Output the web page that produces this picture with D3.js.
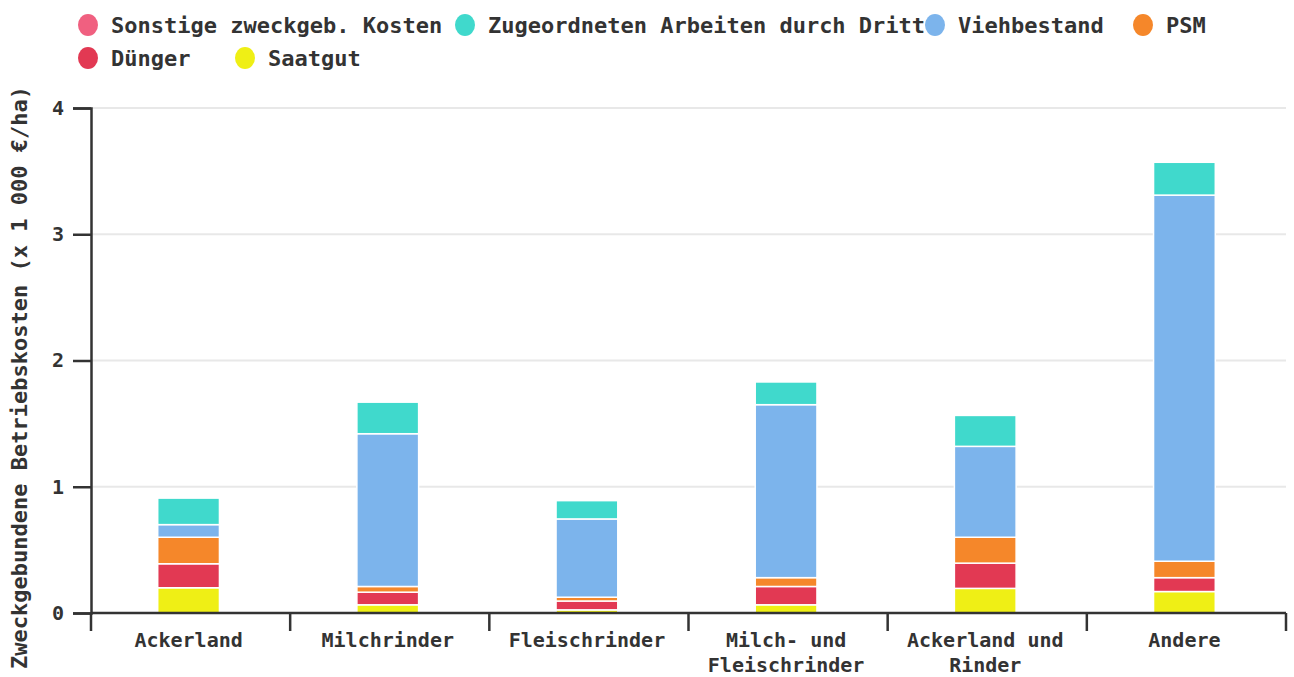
<!DOCTYPE html>
<html>
<head>
<meta charset="utf-8">
<script src="https://cdn.jsdelivr.net/npm/d3@7"></script>
<style>
  body { margin: 0; background: #fff; }
  svg text { font-family: "DejaVu Sans Mono", monospace; font-weight: bold; fill: #333; }
  .grid line { stroke: #e8e8e8; stroke-width: 2px; }
  .axis path, .axis line { stroke: #333; stroke-width: 2.5px; }
</style>
</head>
<body>
<div id="chart"></div>
<script>
const categories = ["Ackerland", "Milchrinder", "Fleischrinder", "Milch- und Fleischrinder", "Ackerland und Rinder", "Andere"];
const categoryLines = [["Ackerland"], ["Milchrinder"], ["Fleischrinder"], ["Milch- und", "Fleischrinder"], ["Ackerland und", "Rinder"], ["Andere"]];

// stacked bottom to top
const seriesNames = ["Saatgut", "Dünger", "PSM", "Viehbestand", "Zugeordneten Arbeiten durch Dritte", "Sonstige zweckgeb. Kosten"];
const saatgut     = [0.20, 0.065, 0.025, 0.065, 0.195, 0.17];
const duenger     = [0.19, 0.10, 0.07, 0.145, 0.20, 0.11];
const psm         = [0.21, 0.045, 0.03, 0.07, 0.205, 0.13];
const viehbestand = [0.10, 1.21, 0.62, 1.37, 0.72, 2.90];
const zugeordnet  = [0.21, 0.25, 0.145, 0.18, 0.245, 0.26];
const sonstige    = [0, 0, 0, 0, 0, 0];
const colors = ["#efef15", "#e23953", "#f5872a", "#7cb4ec", "#40d9cc", "#f06080"];
const yTicks = [0, 1, 2, 3, 4];

const width = 1294, height = 677;
const margin = {top: 108, right: 8, bottom: 64, left: 91};

const rows = categories.map((c, i) => ({
  cat: c,
  "Saatgut": saatgut[i],
  "Dünger": duenger[i],
  "PSM": psm[i],
  "Viehbestand": viehbestand[i],
  "Zugeordneten Arbeiten durch Dritte": zugeordnet[i],
  "Sonstige zweckgeb. Kosten": sonstige[i]
}));

const svg = d3.select("#chart").append("svg")
  .attr("width", width).attr("height", height);

const x = d3.scaleBand().domain(categories)
  .range([margin.left, width - margin.right]);
const y = d3.scaleLinear().domain([0, 4])
  .range([height - margin.bottom, margin.top]);
const color = d3.scaleOrdinal(seriesNames, colors);

// grid
svg.append("g").attr("class", "grid")
  .selectAll("line").data(yTicks.filter(t => t > 0)).join("line")
  .attr("x1", margin.left).attr("x2", width - margin.right)
  .attr("y1", d => y(d)).attr("y2", d => y(d));

// bars
const stack = d3.stack().keys(seriesNames)(rows);
const barW = x.bandwidth() * 0.31;
svg.append("g").selectAll("g").data(stack).join("g")
  .attr("fill", d => color(d.key))
  .selectAll("rect").data(d => d).join("rect")
    .attr("x", d => x(d.data.cat) + x.bandwidth() / 2 - barW / 2 - 2)
    .attr("width", barW)
    .attr("y", d => y(d[1]))
    .attr("height", d => Math.max(0, y(d[0]) - y(d[1])))
    .attr("stroke", "#fff")
    .attr("stroke-width", 1.5);

// y axis
const yAxis = svg.append("g").attr("class", "axis")
  .attr("transform", `translate(${margin.left},0)`)
  .call(d3.axisLeft(y).tickValues(yTicks).tickSize(18).tickPadding(9).tickFormat(d3.format("d")));
yAxis.selectAll("text").style("font-size", "20px");

// x axis with ticks on band boundaries
const xAxisG = svg.append("g").attr("class", "axis")
  .attr("transform", `translate(0,${y(0)})`);
xAxisG.append("line")
  .attr("x1", margin.left).attr("x2", width - margin.right)
  .attr("y1", 0).attr("y2", 0);
const bounds = categories.map(c => x(c)).concat([x.range()[1]]);
xAxisG.selectAll("line.tick").data(bounds).join("line")
  .attr("class", "tick")
  .attr("x1", d => d).attr("x2", d => d)
  .attr("y1", 0).attr("y2", 18);
xAxisG.selectAll("text").data(categoryLines).join("text")
  .attr("text-anchor", "middle")
  .style("font-size", "20px")
  .attr("transform", (d, i) => `translate(${x(categories[i]) + x.bandwidth() / 2 - 2},34)`)
  .selectAll("tspan").data(d => d).join("tspan")
    .attr("x", 0).attr("dy", (d, j) => j === 0 ? 0 : 25)
    .text(d => d);

// y title
svg.append("text")
  .attr("transform", `translate(27,${(margin.top + y(0)) / 2 + 17}) rotate(-90)`)
  .attr("text-anchor", "middle")
  .style("font-size", "22px")
  .text("Zweckgebundene Betriebskosten (x 1 000 €/ha)");

// legend
const legendOrder = seriesNames.slice().reverse();
const legendX = [88, 465, 935, 1143, 88, 245];
const legendY = [25, 25, 25, 25, 58, 58];
const leg = svg.append("g").selectAll("g").data(legendOrder).join("g")
  .attr("transform", (d, i) => `translate(${legendX[i]},${legendY[i]})`);
leg.append("text")
  .attr("x", 23).attr("dy", "0.35em")
  .style("font-size", "22px")
  .text(d => d === "Zugeordneten Arbeiten durch Dritte" ? "Zugeordneten Arbeiten durch Dritt" : d);
leg.append("ellipse")
  .attr("rx", 10).attr("ry", 11)
  .attr("fill", d => color(d));
</script>
</body>
</html>
